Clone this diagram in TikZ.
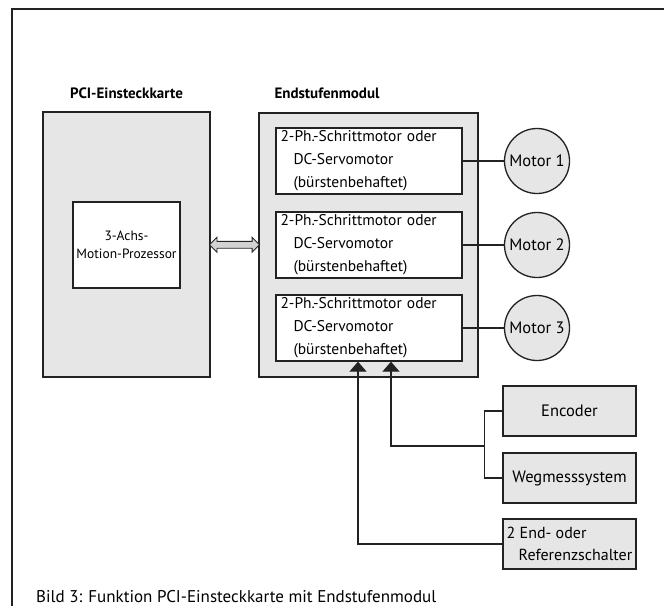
\documentclass[tikz,border=0pt]{standalone}
\usepackage{fontspec}
\setmainfont{PT Sans}
\usetikzlibrary{positioning, calc, shapes.arrows, arrows.meta}
\definecolor{boxgray}{HTML}{E6E6E6}
\definecolor{linegray}{HTML}{222222}

\begin{document}
\begin{tikzpicture}[
    x=1pt, y=-1pt,
    blk/.style={draw=linegray, fill=boxgray, line width=1.3pt, inner sep=0pt},
    wbox/.style={draw=linegray, fill=white, line width=1.3pt},
    drv/.style={wbox, minimum width=186pt, minimum height=66pt, text width=177pt,
                inner xsep=4.5pt, inner ysep=2pt, align=left,
                font=\fontsize{15.5}{23}\selectfont},
    mot/.style={circle, draw=linegray, fill=boxgray, line width=1.3pt, inner sep=0pt,
                minimum size=65pt, font=\fontsize{16.5}{18}\selectfont},
    src/.style={blk, minimum width=133pt, minimum height=50pt,
                font=\fontsize{16.5}{22}\selectfont},
    hd/.style={font=\fontsize{15}{18}\selectfont\bfseries, inner sep=0pt},
    wire/.style={draw=linegray, line width=1.3pt},
    sig/.style={wire, -{Triangle[width=17pt, length=10pt]}}
  ]
  \useasboundingbox (0,0) rectangle (664,606);
  % -- frame --
  \draw[linegray, line width=1.2pt] (12,606) -- (12,9) -- (664,9);
  % -- PCI card --
  \node[blk, minimum width=167pt, minimum height=265pt] (pci) at (126.5,244.5) {};
  \node[hd, anchor=base] (pcilbl) at ([yshift=13pt]pci.north) {PCI-Einsteckkarte};
  \node[wbox, minimum width=107pt, minimum height=86pt, align=center,
        font=\fontsize{13.5}{18}\selectfont] (mp) at (126.5,245) {3-Achs-\\Motion-Prozessor};
  % -- power stage module --
  \node[blk, minimum width=219pt, minimum height=264pt] (esm) at (368.5,245) {};
  \node[hd, anchor=base west] (esmlbl) at ([xshift=16pt, yshift=14pt]esm.north west) {Endstufenmodul};
  \node[double arrow, draw=linegray, fill=gray!35, line width=0.9pt, inner sep=3pt,
        double arrow head extend=4pt, minimum height=50pt] (bus)
        at ($(pci.east)!0.5!(esm.west)$) {};
  % -- drivers and motors --
  \foreach \i/\y in {1/161, 2/245, 3/328}{
    \node[drv] (drv\i) at (369,\y)
      {2-Ph.-Schrittmotor oder\\\hspace*{13pt}DC-Servomotor\\\hspace*{13pt}(bürstenbehaftet)};
    \node[mot] (m\i) at (537,\y) {Motor \i};
    \draw[wire] (drv\i.east) -- (m\i.west);
  }
  % -- feedback --
  \node[src] (enc) at (569.5,411) {Encoder};
  \node[src] (weg) at (569.5,478) {Wegmesssystem};
  \node[src, align=left, font=\fontsize{16}{22}\selectfont] (ref) at (569.5,544)
    {2 End- oder\\\hspace*{12pt}Referenzschalter};
  \coordinate (jn) at (485,446);
  \draw[wire] (enc.west) -- ++(-18,0) |- (weg.west);
  \draw[sig] (jn) -| ([xshift=22pt]drv3.south);
  \draw[sig] (ref.west) -| ([xshift=-11pt]drv3.south);
  % -- caption --
  \node[anchor=base west, inner sep=0pt, font=\fontsize{17}{19}\selectfont] (cap) at (36,602)
    {Bild 3: Funktion PCI-Einsteckkarte mit Endstufenmodul};
\end{tikzpicture}
\end{document}
